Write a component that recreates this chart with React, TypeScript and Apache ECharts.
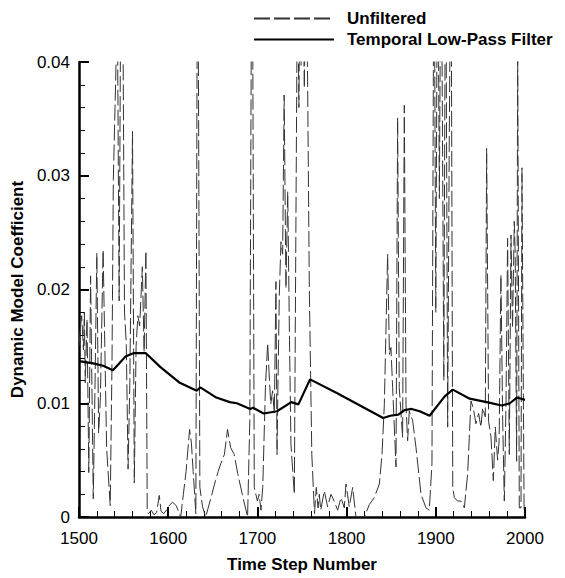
import React, { useEffect, useRef } from "react";
import * as echarts from "echarts";

const unfilteredSteps = [
  1500, 1501, 1503, 1505, 1506, 1507, 1509, 1511, 1513, 1516, 1518, 1520, 1522, 1524, 1527, 1531, 1535, 1537, 1538.5, 1541,
  1543, 1545, 1547, 1549, 1551, 1553, 1555, 1557, 1560, 1562, 1564, 1566, 1568, 1571, 1573, 1575, 1576.5, 1578, 1581, 1584,
  1587, 1590, 1592, 1595, 1598, 1601, 1605, 1609, 1612, 1614, 1617, 1620, 1624, 1626, 1628, 1631, 1633, 1635.5, 1638.5, 1642,
  1648, 1653, 1656, 1659, 1663, 1666.5, 1668, 1670, 1674, 1678, 1683, 1689, 1691.5, 1694, 1696.5, 1700, 1702, 1704, 1706, 1709,
  1711.5, 1713, 1715, 1717, 1719, 1720.8, 1722, 1723, 1724.6, 1726.4, 1728.3, 1730, 1732, 1734, 1736, 1737.6, 1741.4, 1745, 1746.5, 1748,
  1749, 1750.7, 1752.6, 1754.5, 1756.3, 1758.2, 1761, 1764, 1766, 1768, 1769.4, 1771, 1775, 1778.7, 1782.5, 1786, 1790, 1793.7, 1797.4, 1799.3,
  1801, 1803, 1806.8, 1810.5, 1814, 1820, 1825.5, 1831, 1836.7, 1839.7, 1842.3, 1846, 1848, 1849.7, 1851.6, 1853.5, 1855.4, 1857.2, 1859, 1862.8,
  1864.7, 1866.6, 1868.4, 1870.3, 1874, 1877.8, 1883.4, 1889, 1892.7, 1895.7, 1898, 1900, 1902, 1904, 1906, 1909, 1911, 1913.3, 1915, 1917,
  1919, 1920.8, 1924.5, 1928.2, 1932, 1935.7, 1939.4, 1942, 1945, 1948, 1950.6, 1952.5, 1955.5, 1957, 1959.2, 1961.9, 1964.5, 1966.7, 1969.3, 1971,
  1973, 1975, 1976.8, 1978.7, 1980.5, 1982.4, 1984.3, 1986, 1988, 1989, 1990.6, 1991.8, 1993.6, 1995.5, 1996.6, 1999, 2000,
];

const unfilteredValues = [
  0.015, 0.0162, 0.0177, 0.0147, 0.018, 0.0118, 0.0174, 0.0039, 0.0212, 0.0016, 0.0118, 0.0232, 0.0074, 0.0105, 0.0235, 0.006, 0.001, 0.0136, 0.0297, 0.0381,
  0.045, 0.019, 0.05, 0.048, 0.018, 0.0153, 0.0042, 0.0118, 0.0339, 0.003, 0.015, 0.0177, 0.0168, 0.022, 0.0145, 0.0234, 0.0004, 0.0003, 0.0006, 0.0002,
  0.0004, 0.0019, 0.0005, 0.0003, 0.0006, 0.001, 0.0013, 0.001, 0.0004, 0.0, 0.002, 0.004, 0.0077, 0.0065, 0.004, 0.0003, 0.06, 0.0026, 0.0009, 0.0,
  0.0017, 0.0032, 0.004, 0.0047, 0.0055, 0.0077, 0.007, 0.0061, 0.0055, 0.0038, 0.002, 0.0, 0.0085, 0.06, 0.0026, 0.0014, 0.002, 0.0006, 0.0026, 0.0114,
  0.0153, 0.0128, 0.0099, 0.0111, 0.0091, 0.0207, 0.0055, 0.0114, 0.0196, 0.0242, 0.0231, 0.0371, 0.0201, 0.0286, 0.0155, 0.0064, 0.002, 0.05, 0.036, 0.05,
  0.0397, 0.05, 0.0377, 0.05, 0.0383, 0.0201, 0.0055, 0.0003, 0.0026, 0.0008, 0.002, 0.0006, 0.0023, 0.0009, 0.002, 0.0014, 0.0006, 0.0017, 0.0008, 0.0029,
  0.002, 0.0009, 0.0026, 0.0, 0.0, 0.0, 0.0011, 0.0017, 0.0029, 0.0055, 0.0099, 0.0231, 0.0143, 0.0149, 0.0114, 0.0079, 0.0044, 0.0351, 0.0114, 0.007,
  0.0362, 0.0099, 0.0067, 0.0093, 0.0085, 0.0061, 0.002, 0.0008, 0.0006, 0.0047, 0.055, 0.018, 0.055, 0.028, 0.055, 0.012, 0.055, 0.0079, 0.0318, 0.055,
  0.0026, 0.0017, 0.0014, 0.0014, 0.0008, 0.0038, 0.0102, 0.0096, 0.0082, 0.0091, 0.0079, 0.0096, 0.0088, 0.0324, 0.0084, 0.007, 0.0032, 0.0079, 0.005, 0.0067,
  0.0213, 0.0084, 0.0014, 0.0099, 0.0245, 0.0055, 0.0248, 0.0166, 0.026, 0.0231, 0.0049, 0.041, 0.0008, 0.0008, 0.0307, 0.0003, 0.0003,
];

const filteredSteps = [
  1500, 1516, 1527, 1538, 1544, 1552, 1561, 1575, 1591, 1613, 1632, 1636, 1654, 1669, 1677, 1692, 1695, 1707, 1722, 1738,
  1746, 1759, 1789, 1815, 1841, 1849, 1858, 1865, 1873, 1882, 1893, 1903, 1910, 1919, 1938, 1957, 1974, 1983, 1991, 2000,
];

const filteredValues = [
  0.0137, 0.0135, 0.0133, 0.0129, 0.0134, 0.0141, 0.0144, 0.0144, 0.0132, 0.0118, 0.0111, 0.0114, 0.0105, 0.0101, 0.01, 0.0095, 0.0096, 0.0091, 0.0093, 0.0101,
  0.0099, 0.0121, 0.0109, 0.0098, 0.0087, 0.0089, 0.009, 0.0094, 0.0095, 0.0093, 0.0089, 0.0099, 0.0106, 0.0112, 0.0104, 0.0101, 0.0098, 0.01, 0.0105, 0.0103,
];

const seriesNames = ["Unfiltered", "Temporal Low-Pass Filter"];
const xTitle = "Time Step Number";
const yTitle = "Dynamic Model Coefficient";

const FONT = "'Liberation Sans', Arial, Helvetica, sans-serif";

export default function App() {
  const ref = useRef<HTMLDivElement>(null);

  useEffect(() => {
    if (!ref.current) return;
    const chart = echarts.init(ref.current, null, { renderer: "svg" });
    const unfiltered = unfilteredSteps.map((s, i) => [s, unfilteredValues[i]]);
    const filtered = filteredSteps.map((s, i) => [s, filteredValues[i]]);

    chart.setOption({
      animation: false,
      backgroundColor: "#ffffff",
      textStyle: { fontFamily: FONT },
      legend: {
        orient: "vertical",
        left: 253,
        top: 10,
        itemWidth: 80,
        itemHeight: 17,
        itemGap: 4,
        padding: 0,
        itemStyle: { color: "rgba(0,0,0,0)", borderColor: "rgba(0,0,0,0)", borderWidth: 0, opacity: 0 },
        textStyle: {
          fontFamily: FONT,
          fontSize: 17,
          fontWeight: "bold",
          color: "#000",
          padding: [0, 0, 0, 8],
        },
        data: seriesNames,
      },
      grid: { left: 79, right: 40, top: 62, bottom: 60, containLabel: false },
      xAxis: {
        type: "value",
        min: 1500,
        max: 2000,
        interval: 100,
        name: xTitle,
        nameLocation: "middle",
        nameGap: 39,
        nameTextStyle: { fontFamily: FONT, fontSize: 17, fontWeight: "bold", color: "#000" },
        axisLine: { show: true, onZero: false, lineStyle: { color: "#000", width: 2.5 } },
        axisTick: { show: true, inside: true, length: 10, lineStyle: { color: "#000", width: 2 } },
        minorTick: { show: true, splitNumber: 5, length: 6, lineStyle: { color: "#000", width: 1 } },
        axisLabel: {
          fontFamily: FONT,
          fontSize: 17,
          color: "#000",
          margin: 13,
          formatter: (v: number) => String(v),
        },
        splitLine: { show: false },
      },
      yAxis: {
        type: "value",
        min: 0,
        max: 0.04,
        interval: 0.01,
        name: yTitle,
        nameLocation: "middle",
        nameGap: 52,
        nameTextStyle: { fontFamily: FONT, fontSize: 17, fontWeight: "bold", color: "#000" },
        axisLine: { show: true, onZero: false, lineStyle: { color: "#000", width: 2.5 } },
        axisTick: { show: true, inside: true, length: 10, lineStyle: { color: "#000", width: 2 } },
        minorTick: { show: true, splitNumber: 5, length: 6, lineStyle: { color: "#000", width: 1 } },
        axisLabel: {
          fontFamily: FONT,
          fontSize: 17,
          color: "#000",
          margin: 9,
          formatter: (v: number) => (v === 0 ? "0" : v.toFixed(2)),
        },
        splitLine: { show: false },
      },
      series: [
        {
          name: seriesNames[0],
          type: "line",
          data: unfiltered,
          symbol: "none",
          clip: true,
          lineStyle: { color: "#333", width: 1, type: [16, 4] },
          itemStyle: { color: "#333" },
          z: 2,
        },
        {
          name: seriesNames[1],
          type: "line",
          data: filtered,
          symbol: "none",
          clip: true,
          lineStyle: { color: "#000", width: 2.2 },
          itemStyle: { color: "#000" },
          z: 3,
        },
      ],
    });
    return () => chart.dispose();
  }, []);

  return (
    <div
      ref={ref}
      style={{ position: "fixed", left: 0, top: 0, width: 565, height: 578 }}
    />
  );
}
